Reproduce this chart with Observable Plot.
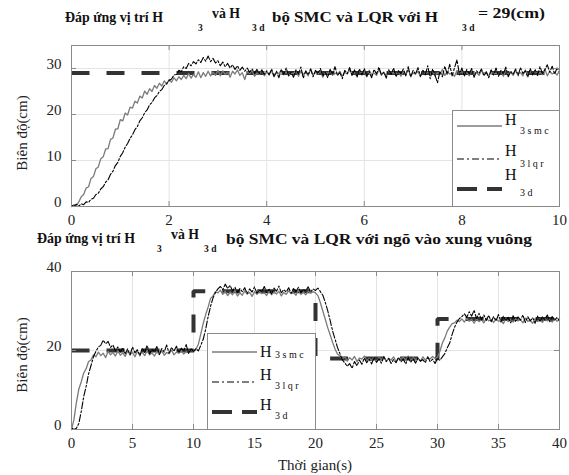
<!DOCTYPE html>
<html><head><meta charset="utf-8">
<script src="https://cdn.jsdelivr.net/npm/d3@7"></script>
<script src="https://cdn.jsdelivr.net/npm/@observablehq/plot@0.6"></script>
<style>
body{margin:0;background:#fff;}
#root{position:relative;width:569px;height:475px;overflow:hidden;font-family:'Liberation Serif','DejaVu Serif',serif;}
.abs{position:absolute;left:0;}
</style></head><body><div id="root"></div>
<script>
// ---------- data ----------
// top panel: step response to H3d = 29 cm, sampled every 0.05 s (0..10 s)
const topDt = 0.05;
const topXTicks = [0, 2, 4, 6, 8, 10];
const topYTicks = [0, 10, 20, 30];
const topRefT = [0, 10];
const topRefV = [29, 29];
const topSmc = [
0.0,0.4,0.2,1.0,2.1,2.6,4.0,4.3,6.1,6.5,
8.2,8.6,10.4,10.8,12.5,12.6,14.6,14.9,16.8,16.9,
18.9,18.6,20.3,19.9,21.6,21.4,22.9,22.5,24.0,23.6,
25.1,24.4,25.6,25.0,26.3,25.7,26.8,26.2,27.3,26.6,
27.6,27.0,28.0,27.3,28.2,27.6,28.5,27.8,28.9,27.9,
28.7,28.1,29.3,28.0,29.1,28.3,29.4,28.4,29.2,28.5,
29.6,
28.4,29.5,28.7,29.2,28.1,29.4,28.8,29.7,28.5,29.1,
27.6,29.3,28.9,29.6,28.3,29.0,28.7,29.8,28.4,29.2,
28.8,29.5,28.2,29.1,28.9,29.7,28.6,29.3,28.5,29.0,
28.9,29.6,28.3,29.4,28.7,29.2,28.4,29.9,28.6,29.1,
28.8,29.5,28.1,29.3,28.9,29.6,28.5,29.0,28.7,29.4,
28.3,29.2,28.8,29.7,28.6,29.1,28.4,29.5,28.9,29.3,
28.2,29.6,28.7,29.0,28.5,29.8,28.8,29.2,28.4,29.4,
28.9,29.1,28.6,29.5,28.3,29.3,28.7,29.7,28.5,29.0,
28.8,29.4,28.2,29.6,28.9,29.2,28.6,29.5,28.4,29.1,
28.7,29.8,28.5,29.3,28.8,29.0,28.3,29.6,28.9,29.4,
28.6,29.2,28.4,29.7,28.7,29.1,28.5,29.5,28.9,29.3,
28.2,29.6,28.8,29.0,28.6,29.4,28.3,29.8,28.7,29.2,
28.5,29.5,28.9,29.1,28.4,29.7,28.6,29.3,28.8,29.6,
28.5,29.2,28.7,29.9,28.4,29.4,28.8,29.1,28.6,29.5
];
const topLqr = [
0.3,0.0,0.5,0.1,0.6,0.4,1.0,0.9,1.6,1.8,
2.6,2.9,3.8,4.3,5.3,5.8,7.0,7.7,8.9,9.6,
10.9,11.7,12.9,13.7,14.8,15.6,16.7,17.4,18.6,19.3,
20.4,21.0,22.1,22.6,23.6,24.1,25.0,25.4,26.3,26.7,
27.4,27.7,28.6,28.7,29.6,29.3,30.4,30.0,31.1,30.6,
31.5,31.0,31.9,31.3,32.4,31.6,32.7,31.5,32.2,31.2,
31.7,30.6,31.4,30.4,31.1,30.1,30.8,29.8,30.6,29.6,
30.3,29.4,30.1,29.2,29.9,29.0,29.8,28.9,29.6,28.7,
29.5,
28.6,29.9,28.3,29.4,28.0,29.8,28.7,30.1,28.4,29.2,
28.1,29.7,28.8,30.3,27.9,29.5,28.6,29.9,28.2,29.6,
28.9,30.0,28.3,29.3,28.0,29.8,28.7,30.4,28.5,29.1,
27.8,29.6,28.9,30.2,28.4,29.7,28.1,29.9,28.6,30.0,
28.3,29.4,28.0,29.8,28.8,30.3,28.5,29.2,27.9,29.7,
28.7,30.1,28.2,29.5,28.9,29.9,28.4,30.4,28.1,29.6,
28.8,30.2,28.3,29.7,28.6,30.6,27.8,29.9,28.5,26.9,
29.4,28.2,30.5,28.7,30.9,28.4,30.2,31.9,28.6,30.1,
28.3,29.8,28.7,30.0,28.1,29.5,28.9,29.9,28.4,29.2,
28.0,29.7,28.6,30.1,28.3,29.6,28.8,30.3,28.2,29.4,
28.7,29.9,28.4,30.2,28.9,29.5,28.1,30.0,28.6,29.8,
28.5,30.4,28.9,29.7,30.8,29.2,30.5,28.8,30.1,29.3
];

// bottom panel: square-wave input, sampled every 0.2 s (0..40 s)
const botDt = 0.2;
const botXTicks = [0, 5, 10, 15, 20, 25, 30, 35, 40];
const botYTicks = [0, 20, 40];
const botRefT = [0, 10, 10, 20, 20, 30, 30, 40];
const botRefV = [20, 20, 35, 35, 18, 18, 28, 28];
const botSmc = [
0.0,2.5,6.8,10.2,12.1,14.3,15.4,17.2,17.6,18.9,
18.4,19.6,18.7,19.3,18.2,19.8,18.9,19.5,18.6,19.9,
18.8,
19.4,18.5,19.9,18.9,19.6,18.4,19.8,19.1,19.5,18.7,
20.0,18.9,19.4,18.6,19.7,19.0,19.9,18.8,19.5,19.2,
20.1,18.9,19.6,19.3,20.0,19.1,19.7,19.4,20.2,19.6,
20.3,21.6,24.2,26.9,29.1,31.0,33.2,33.8,34.9,34.6,
35.3,34.2,35.0,33.9,34.8,34.1,35.2,33.8,34.6,34.0,
35.1,34.3,34.7,33.7,34.9,34.2,35.0,34.4,34.6,33.9,
35.2,34.1,34.8,34.3,35.0,33.8,34.7,34.2,35.1,34.4,
34.6,34.0,35.3,34.2,34.8,34.1,35.0,34.5,34.9,34.6,
33.9,32.1,30.0,27.9,25.8,24.0,22.1,20.4,19.1,18.6,
17.9,
18.4,17.3,18.2,17.6,18.5,17.2,18.1,17.8,18.6,17.4,
18.0,17.5,18.3,17.1,18.2,17.7,18.5,17.3,18.0,17.6,
18.4,17.2,18.1,17.8,18.3,17.5,18.6,17.4,18.2,17.7,
18.0,17.3,18.4,17.6,18.1,17.9,18.5,18.0,18.3,
19.8,21.9,23.2,24.9,25.9,26.8,27.0,27.7,27.3,28.0,
27.2,28.1,27.4,27.9,26.9,28.0,27.3,27.8,27.0,28.2,
27.5,27.9,27.1,28.0,27.4,27.7,26.8,28.1,27.3,27.9,
27.2,28.0,27.5,27.8,27.0,28.2,27.4,27.6,26.9,28.1,
27.3,27.9,27.1,28.0,27.5,27.7,27.2,28.1,27.4,27.8
];
const botLqr = [
0.4,0.0,0.3,1.5,4.6,8.3,10.9,14.1,16.2,18.4,
19.8,20.9,21.3,22.6,21.7,22.3,20.8,21.4,19.9,20.9,
19.6,
20.7,19.2,20.4,18.9,20.9,19.4,20.2,18.6,20.6,19.5,
21.3,19.1,20.3,19.7,21.0,19.0,20.5,19.6,21.4,19.3,
20.8,19.8,21.1,19.4,20.6,19.9,21.5,19.2,20.4,19.7,
20.5,19.9,21.3,22.9,25.4,28.6,31.2,33.3,34.7,35.6,
36.2,35.4,36.8,35.7,36.5,35.1,36.0,34.6,35.7,34.9,
35.9,34.4,35.6,34.8,36.1,34.5,35.3,34.9,36.2,34.7,
35.5,34.3,35.8,35.0,36.3,34.6,35.4,34.8,35.9,34.5,
35.7,34.9,36.0,34.6,35.5,35.1,36.1,34.8,35.6,35.2,
35.8,34.9,34.0,32.2,30.1,27.6,25.0,22.9,20.8,19.2,
17.6,
16.9,16.0,16.7,15.5,17.2,16.1,17.6,16.5,18.1,16.9,
17.8,16.6,18.3,17.0,17.9,16.8,18.4,17.2,18.0,16.7,
17.7,16.9,18.2,17.1,17.8,16.6,18.3,17.0,17.9,16.8,
18.1,17.3,17.7,16.9,18.4,17.2,17.8,16.7,18.0,
17.5,18.4,19.2,20.7,21.9,24.1,25.9,27.2,28.1,28.6,
29.3,28.4,29.8,28.7,30.2,28.1,29.4,27.8,29.0,27.6,
28.9,27.3,28.6,27.5,29.1,27.2,28.7,27.6,28.4,27.0,
28.8,27.4,28.5,27.7,29.0,27.1,28.6,27.5,28.3,26.9,
28.7,27.4,28.5,27.8,29.0,27.3,28.6,27.6,28.4,27.5
];

// ---------- drawing ----------
const FONT = "'Liberation Serif', 'DejaVu Serif', serif";
const C_SMC = "#7b7b7b", C_LQR = "#000", C_REF = "#333", C_FRAME = "#8a8a8a", C_GRID = "#e4e4e4";
const root = document.getElementById("root");

function panel({xDomain, yDomain, xTicks, yTicks, dt, smc, lqr, refT, refV, height, mTop, mBottom}) {
  const mLeft = 71, mRight = 10, width = 569;
  const fw = width - mLeft - mRight, fh = height - mTop - mBottom;
  const smcData = smc.map((v, i) => ({t: i * dt, v}));
  const lqrData = lqr.map((v, i) => ({t: i * dt, v}));
  const refData = refT.map((t, i) => ({t, v: refV[i]}));
  return Plot.plot({
    width, height, marginLeft: mLeft, marginRight: mRight, marginTop: mTop, marginBottom: mBottom,
    x: {domain: xDomain, label: null},
    y: {domain: yDomain, label: null},
    style: {fontFamily: FONT, fontSize: "15px", background: "transparent", color: "#222"},
    marks: [
      Plot.gridX(xTicks, {stroke: C_GRID, strokeOpacity: 1}),
      Plot.gridY(yTicks, {stroke: C_GRID, strokeOpacity: 1}),
      Plot.line(refData, {x: "t", y: "v", stroke: C_REF, strokeWidth: 4, strokeDasharray: "18,17", strokeLinecap: "butt", strokeLinejoin: "miter"}),
      Plot.line(smcData, {x: "t", y: "v", stroke: C_SMC, strokeWidth: 1.3}),
      Plot.line(lqrData, {x: "t", y: "v", stroke: C_LQR, strokeWidth: 1.1, strokeDasharray: "7,2,2,2"}),
      Plot.tickX(xTicks, {x: d => d, stroke: C_FRAME, insetTop: fh - 5}),
      Plot.tickX(xTicks, {x: d => d, stroke: C_FRAME, insetBottom: fh - 5}),
      Plot.tickY(yTicks, {y: d => d, stroke: C_FRAME, insetRight: fw - 5}),
      Plot.tickY(yTicks, {y: d => d, stroke: C_FRAME, insetLeft: fw - 5}),
      Plot.frame({stroke: C_FRAME}),
      Plot.axisX(xTicks, {tickSize: 0, tickPadding: 8, label: null, fill: "#222", fontFamily: FONT, fontSize: 15}),
      Plot.axisY(yTicks, {tickSize: 0, tickPadding: 10, dy: -4, label: null, fill: "#222", fontFamily: FONT, fontSize: 15})
    ]
  });
}

function place(el, top) {
  const d = document.createElement("div");
  d.className = "abs";
  d.style.top = top + "px";
  d.appendChild(el);
  root.appendChild(d);
}

place(panel({xDomain: [0, 10], yDomain: [0, 35], xTicks: topXTicks, yTicks: topYTicks, dt: topDt,
  smc: topSmc, lqr: topLqr, refT: topRefT, refV: topRefV, height: 235, mTop: 45, mBottom: 29}), 0);
place(panel({xDomain: [0, 40], yDomain: [0, 40], xTicks: botXTicks, yTicks: botYTicks, dt: botDt,
  smc: botSmc, lqr: botLqr, refT: botRefT, refV: botRefV, height: 235, mTop: 31, mBottom: 46}), 240);

// ---------- overlay: titles, axis labels, legends ----------
const ov = d3.select(root).append("svg")
  .attr("width", 569).attr("height", 475)
  .style("position", "absolute").style("left", "0px").style("top", "0px")
  .attr("font-family", FONT);

function txt(x, y, s, size, bold, extra) {
  const t = ov.append("text").attr("x", x).attr("y", y).attr("font-size", size)
    .attr("font-family", FONT).attr("fill", "#111").text(s);
  if (bold) t.attr("font-weight", "bold");
  if (extra && extra.len) t.attr("textLength", extra.len).attr("lengthAdjust", "spacingAndGlyphs");
  return t;
}

// top title
txt(65, 22, "Đáp ứng vị trí H", 14, true, {len: 98});
txt(198, 31, "3", 9.5, true);
txt(212, 18, "và H", 14, true, {len: 28});
txt(252, 31, "3 d", 9.5, true);
txt(272, 22, "bộ SMC và LQR với H", 14, true, {len: 166});
txt(462, 31, "3 d", 9.5, true);
txt(478, 18, "= 29(cm)", 14, true, {len: 67});

// bottom title
txt(37, 243, "Đáp ứng vị trí H", 14, true, {len: 98});
txt(157, 252, "3", 9.5, true);
txt(171, 239, "và H", 14, true, {len: 28});
txt(204, 252, "3 d", 9.5, true);
txt(226, 244, "bộ SMC và LQR với ngõ vào xung vuông", 14, true, {len: 306});

// y-axis titles
ov.append("text").attr("transform", "translate(27,133) rotate(-90)").attr("text-anchor", "middle")
  .attr("font-family", FONT).attr("font-size", 15).attr("fill", "#222").text("Biên độ(cm)");
ov.append("text").attr("transform", "translate(27,355) rotate(-90)").attr("text-anchor", "middle")
  .attr("font-family", FONT).attr("font-size", 15).attr("fill", "#222").text("Biên độ(cm)");
// x-axis title
ov.append("text").attr("x", 315).attr("y", 470).attr("text-anchor", "middle")
  .attr("font-family", FONT).attr("font-size", 15).attr("fill", "#222").text("Thời gian(s)");

// legends
const legendItems = [
  {sub: "3 s m c", stroke: C_SMC, w: 1.3, dash: null},
  {sub: "3 l q r", stroke: C_LQR, w: 1.1, dash: "7,3,2,3"},
  {sub: "3 d", stroke: C_REF, w: 4, dash: "20,10"}
];
function legend(x0, y0, x1, y1, lineY, hY, subY) {
  ov.append("rect").attr("x", x0 + 0.5).attr("y", y0 + 0.5).attr("width", x1 - x0).attr("height", y1 - y0)
    .attr("fill", "#fff").attr("stroke", C_FRAME);
  legendItems.forEach((it, i) => {
    const l = ov.append("line").attr("x1", x0 + 5).attr("x2", x0 + 50)
      .attr("y1", lineY[i]).attr("y2", lineY[i])
      .attr("stroke", it.stroke).attr("stroke-width", it.w);
    if (it.dash) l.attr("stroke-dasharray", it.dash);
    ov.append("text").attr("x", x0 + 53).attr("y", hY[i]).attr("font-family", FONT).attr("font-size", 16).attr("fill", "#111").text("H");
    ov.append("text").attr("x", x0 + 68).attr("y", subY[i]).attr("font-family", FONT).attr("font-size", 10).attr("fill", "#111").text(it.sub);
  });
}
legend(452, 110, 559, 206, [126, 159, 189], [125, 156, 180], [134, 167, 196]);
legend(207, 333, 315, 429, [352, 382, 412], [357, 380, 410], [358, 389, 419]);
</script>
</body></html>
